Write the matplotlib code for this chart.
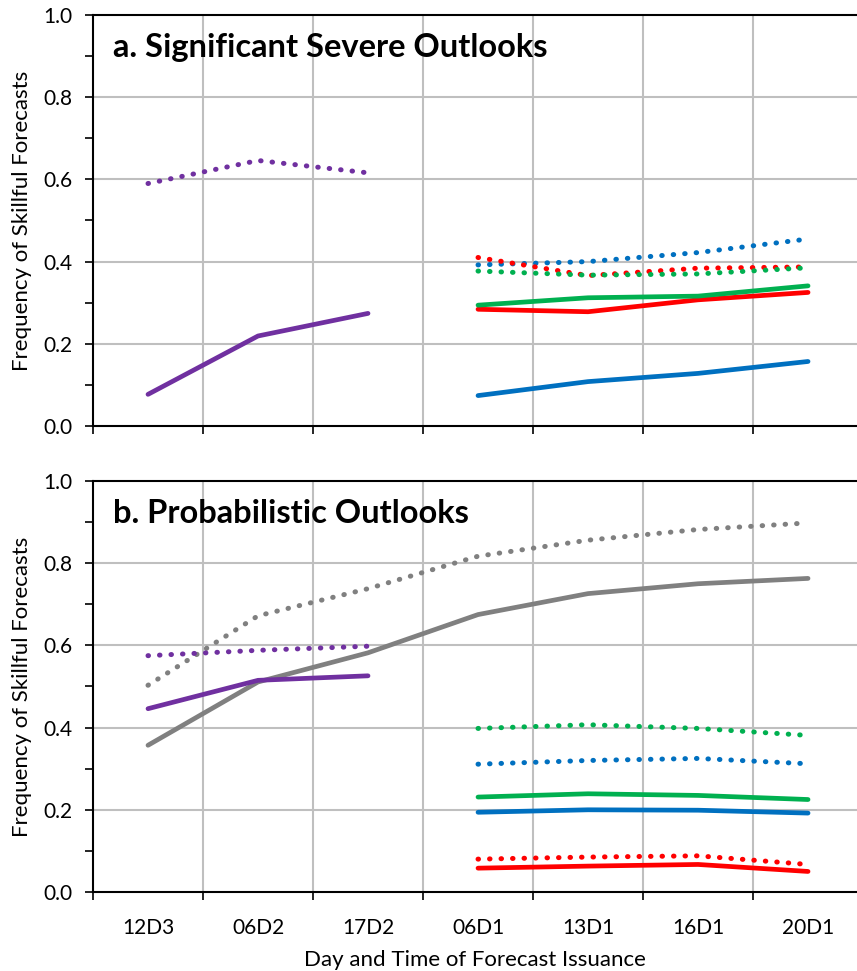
import numpy as np
import matplotlib
matplotlib.use('Agg')
import matplotlib.pyplot as plt

plt.rcParams['font.family'] = ['Lato', 'DejaVu Sans']

cats = ['12D3', '06D2', '17D2', '06D1', '13D1', '16D1', '20D1']
x_early = np.arange(0, 3)   # 12D3 .. 17D2
x_late = np.arange(3, 7)    # 06D1 .. 20D1

# панель a: значимые сильные прогнозы
a_purple = [0.077, 0.219, 0.274]
a_purple_dot = [0.590, 0.646, 0.616]
a_blue = [0.074, 0.108, 0.128, 0.157]
a_green = [0.294, 0.312, 0.316, 0.341]
a_red = [0.284, 0.278, 0.307, 0.325]
a_blue_dot = [0.392, 0.400, 0.422, 0.455]
a_red_dot = [0.410, 0.366, 0.384, 0.387]
a_green_dot = [0.377, 0.367, 0.370, 0.385]

# панель b: вероятностные прогнозы
b_purple = [0.446, 0.515, 0.526]
b_purple_dot = [0.575, 0.588, 0.598]
b_gray = [0.357, 0.511, 0.582, 0.675, 0.726, 0.750, 0.763]
b_gray_dot = [0.503, 0.672, 0.738, 0.817, 0.856, 0.882, 0.898]
b_green_dot = [0.398, 0.407, 0.398, 0.381]
b_blue_dot = [0.311, 0.320, 0.325, 0.312]
b_green = [0.231, 0.239, 0.235, 0.225]
b_blue = [0.194, 0.200, 0.199, 0.192]
b_red_dot = [0.080, 0.085, 0.088, 0.067]
b_red = [0.058, 0.063, 0.067, 0.050]

purple = '#7030A0'
blue = '#0070C0'
red = '#FF0000'
green = '#00B050'
gray = '#808080'

solid = dict(lw=3.4, solid_capstyle='round', solid_joinstyle='round')
dotted = dict(lw=3.6, linestyle=(0, (0.1, 2.2)), dash_capstyle='round')

fig = plt.figure(figsize=(8.57, 9.71), dpi=100)
ax_a = fig.add_axes([93/857, 1-426/971, 764/857, 411/971])
ax_b = fig.add_axes([93/857, 1-892/971, 764/857, 411/971])


def style(ax, title, show_labels):
    ax.set_xlim(-0.5, 6.445)
    ax.set_ylim(0, 1.0)
    ax.set_xticks(np.arange(-0.5, 6.5, 1.0))
    ax.set_xticklabels([])
    ax.set_xticks(np.arange(0, 7), minor=True)
    if show_labels:
        ax.set_xticklabels(cats, minor=True)
    ax.tick_params(axis='x', which='major', direction='out', length=6, width=1.2)
    ax.tick_params(axis='x', which='minor', length=0, pad=19, labelsize=15)
    ax.set_yticks(np.arange(0, 1.01, 0.2))
    ax.set_yticklabels([f'{v:.1f}' for v in np.arange(0, 1.01, 0.2)])
    ax.set_yticks(np.arange(0.1, 1.0, 0.2), minor=True)
    ax.tick_params(axis='y', which='both', direction='out', length=6, width=1.2,
                   labelsize=15, pad=9)
    for xg in np.arange(0.5, 6.5, 1.0):
        ax.axvline(xg, color='#BFBFBF', lw=1.5, zorder=0)
    for yg in [0.2, 0.4, 0.6, 0.8]:
        ax.axhline(yg, color='#BFBFBF', lw=1.5, zorder=0)
    ax.spines['right'].set_visible(False)
    for s in ['left', 'bottom', 'top']:
        ax.spines[s].set_linewidth(1.5)
    ax.set_ylabel('Frequency of Skillful Forecasts', fontsize=16, labelpad=8)
    ax.text(0.026, 0.92, title, transform=ax.transAxes, fontsize=23.5,
            fontweight='bold', va='center', ha='left')


# панель a
ax_a.plot(x_early, a_purple, color=purple, **solid)
ax_a.plot(x_early, a_purple_dot, color=purple, **dotted)
ax_a.plot(x_late, a_blue_dot, color=blue, **dotted)
ax_a.plot(x_late, a_red_dot, color=red, **dotted)
ax_a.plot(x_late, a_green_dot, color=green, **dotted)
ax_a.plot(x_late, a_blue, color=blue, **solid)
ax_a.plot(x_late, a_red, color=red, **solid)
ax_a.plot(x_late, a_green, color=green, **solid)
style(ax_a, 'a. Significant Severe Outlooks', False)

# панель b
ax_b.plot(np.arange(7), b_gray_dot, color=gray, **dotted)
ax_b.plot(np.arange(7), b_gray, color=gray, **solid)
ax_b.plot(x_early, b_purple_dot, color=purple, **dotted)
ax_b.plot(x_early, b_purple, color=purple, **solid)
ax_b.plot(x_late, b_green_dot, color=green, **dotted)
ax_b.plot(x_late, b_blue_dot, color=blue, **dotted)
ax_b.plot(x_late, b_red_dot, color=red, **dotted)
ax_b.plot(x_late, b_green, color=green, **solid)
ax_b.plot(x_late, b_blue, color=blue, **solid)
ax_b.plot(x_late, b_red, color=red, **solid)
style(ax_b, 'b. Probabilistic Outlooks', True)
ax_b.set_xlabel('Day and Time of Forecast Issuance', fontsize=16, labelpad=8)

fig.savefig('out.png', dpi=100)
